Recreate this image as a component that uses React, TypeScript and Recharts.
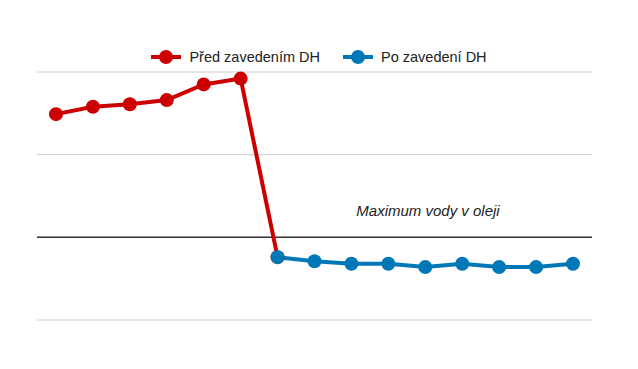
import { LineChart, Line, XAxis, YAxis, CartesianGrid, ReferenceLine } from "recharts";

const categories = ["1", "2", "3", "4", "5", "6", "7", "8", "9", "10", "11", "12", "13", "14", "15"];
const beforeDH = [2.49, 2.58, 2.61, 2.66, 2.85, 2.92, 0.76, null, null, null, null, null, null, null, null];
const afterDH = [null, null, null, null, null, null, 0.76, 0.71, 0.68, 0.68, 0.64, 0.68, 0.64, 0.64, 0.68];
const yTicks = [0, 1, 2, 3];
const limitValue = 1;

const RED = "#cc0000";
const BLUE = "#0077b6";
const FONT = "'Liberation Sans', Arial, sans-serif";

const data = categories.map((name, i) => ({ name, before: beforeDH[i], after: afterDH[i] }));

function LegendIcon({ color }: { color: string }) {
  return (
    <svg width={30} height={14} style={{ marginRight: 8 }}>
      <line x1={0} y1={7} x2={30} y2={7} stroke={color} strokeWidth={4} />
      <circle cx={15} cy={7} r={7} fill={color} />
    </svg>
  );
}

function ChartLegend() {
  const items = [
    { label: "Před zavedením DH", color: RED },
    { label: "Po zavedení DH", color: BLUE },
  ];
  return (
    <div style={{ position: "absolute", top: 49, left: 0, width: 638, display: "flex", justifyContent: "center", gap: 23, fontFamily: FONT, fontSize: 14.5, color: "#222", lineHeight: "16px" }}>
      {items.map((it) => (
        <span key={it.label} style={{ display: "inline-flex", alignItems: "center" }}>
          <LegendIcon color={it.color} />
          {it.label}
        </span>
      ))}
    </div>
  );
}

export default function App() {
  return (
    <div style={{ position: "absolute", left: 0, top: 0, width: 638, height: 369, background: "#fff" }}>
      <LineChart width={638} height={369} data={data} margin={{ top: 72, right: 46, bottom: 49, left: 37 }}>
        <CartesianGrid vertical={false} stroke="#cccccc" />
        <XAxis dataKey="name" hide padding={{ left: 19, right: 19 }} />
        <YAxis hide domain={[0, 3]} ticks={yTicks} />
        <ReferenceLine
          y={limitValue}
          stroke="#333333"
          strokeWidth={1.5}
          label={(props: any) => {
            const vb = props.viewBox;
            return (
              <text x={vb.x + 391} y={vb.y - 21} textAnchor="middle" fontStyle="italic" fontSize={15} fill="#222" fontFamily={FONT}>
                Maximum vody v oleji
              </text>
            );
          }}
        />
        <Line dataKey="before" stroke={RED} strokeWidth={4} dot={{ r: 7, fill: RED, stroke: RED, strokeWidth: 0 }} isAnimationActive={false} connectNulls={false} />
        <Line dataKey="after" stroke={BLUE} strokeWidth={4} dot={{ r: 7, fill: BLUE, stroke: BLUE, strokeWidth: 0 }} isAnimationActive={false} connectNulls={false} />
      </LineChart>
      <ChartLegend />
    </div>
  );
}
